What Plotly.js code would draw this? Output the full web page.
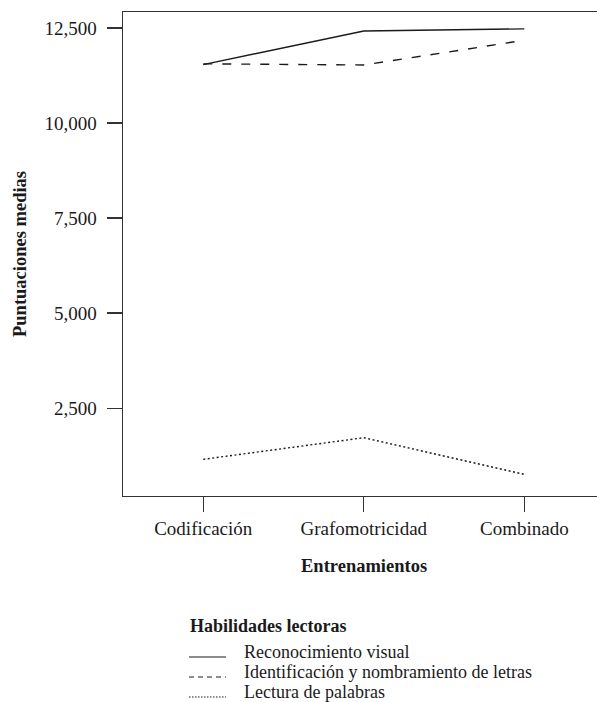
<!DOCTYPE html>
<html>
<head>
<meta charset="utf-8">
<script src="https://cdn.plot.ly/plotly-3.0.1.min.js"></script>
<style>html,body{margin:0;padding:0;background:#fff;overflow:hidden}#chart{width:597px;height:702px}</style>
</head>
<body>
<div id="chart"></div>
<script>
const categories = ["Codificación", "Grafomotricidad", "Combinado"];
const seriesNames = ["Reconocimiento visual", "Identificación y nombramiento de letras", "Lectura de palabras"];
const reconocimiento = [11540, 12425, 12480];
const identificacion = [11560, 11530, 12180];
const lectura = [1155, 1723, 760];
const yTicks = [2500, 5000, 7500, 10000, 12500];
const legendTitle = "Habilidades lectoras";

const FONT = "'Liberation Serif', 'Times New Roman', serif";
const INK = "#1a1a1a";

const W = 597, H = 702;
const M = { l: 123, r: 0, t: 12, b: 206 };
const plotW = W - M.l - M.r, plotH = H - M.t - M.b;
const px2x = (px) => (px - M.l) / plotW;
const px2y = (py) => (H - M.b - py) / plotH;

const dashes = ["solid", "9px,10px", "2px,2.5px"];
const legendDashes = ["solid", "5px,4px", "1.5px,1.5px"];
const values = [reconocimiento, identificacion, lectura];

const traces = values.map((v, i) => ({
  type: "scatter",
  mode: "lines",
  x: categories,
  y: v,
  name: seriesNames[i],
  line: { color: INK, width: 1.4, dash: dashes[i] },
  hoverinfo: "skip",
  showlegend: false
}));

// Custom legend (title + items) placed below the plot
const legendBaselines = [658, 678, 698];
const annotations = [{
  xref: "x", yref: "paper", x: 1, y: 0,
  yshift: -70, yanchor: "middle", xanchor: "center",
  text: "<b>Entrenamientos</b>", showarrow: false,
  font: { family: FONT, size: 18.5, color: INK }
}, {
  xref: "paper", yref: "paper", x: px2x(188), y: px2y(626),
  xanchor: "left", yanchor: "middle", showarrow: false,
  text: "<b>" + legendTitle + "</b>",
  font: { family: FONT, size: 18, color: INK }
}];
const shapes = [];
seriesNames.forEach((name, i) => {
  annotations.push({
    xref: "paper", yref: "paper", x: px2x(242), y: px2y(legendBaselines[i] - 6),
    xanchor: "left", yanchor: "middle", showarrow: false,
    text: name, font: { family: FONT, size: 18, color: INK }
  });
  shapes.push({
    type: "line", xref: "paper", yref: "paper",
    x0: px2x(189), x1: px2x(226),
    y0: px2y(legendBaselines[i] - 1), y1: px2y(legendBaselines[i] - 1),
    line: { color: INK, width: 1.2, dash: legendDashes[i] }
  });
});

const layout = {
  width: W,
  height: H,
  margin: M,
  paper_bgcolor: "#fff",
  plot_bgcolor: "#fff",
  font: { family: FONT, color: INK, size: 19 },
  showlegend: false,
  xaxis: {
    type: "category",
    range: [-0.5, 2.453],
    automargin: false,
    showline: true,
    mirror: true,
    linecolor: "#333",
    linewidth: 1.4,
    showgrid: false,
    zeroline: false,
    ticks: "outside",
    ticklen: 15,
    tickwidth: 1.4,
    tickcolor: "#333",
    tickfont: { family: FONT, size: 19, color: INK }
  },
  yaxis: {
    range: [190, 12924],
    automargin: false,
    showline: true,
    linecolor: "#333",
    linewidth: 1.4,
    showgrid: false,
    zeroline: false,
    ticks: "outside",
    ticklen: 15,
    tickwidth: 1.4,
    tickcolor: "#333",
    tickvals: yTicks,
    tickformat: ",",
    ticklabelstandoff: 6,
    tickfont: { family: FONT, size: 19, color: INK },
    title: { text: "<b>Puntuaciones medias</b>", font: { family: FONT, size: 18.5, color: INK }, standoff: 13 }
  },
  annotations: annotations,
  shapes: shapes
};

Plotly.newPlot("chart", traces, layout, { staticPlot: true, displayModeBar: false });
</script>
</body>
</html>
